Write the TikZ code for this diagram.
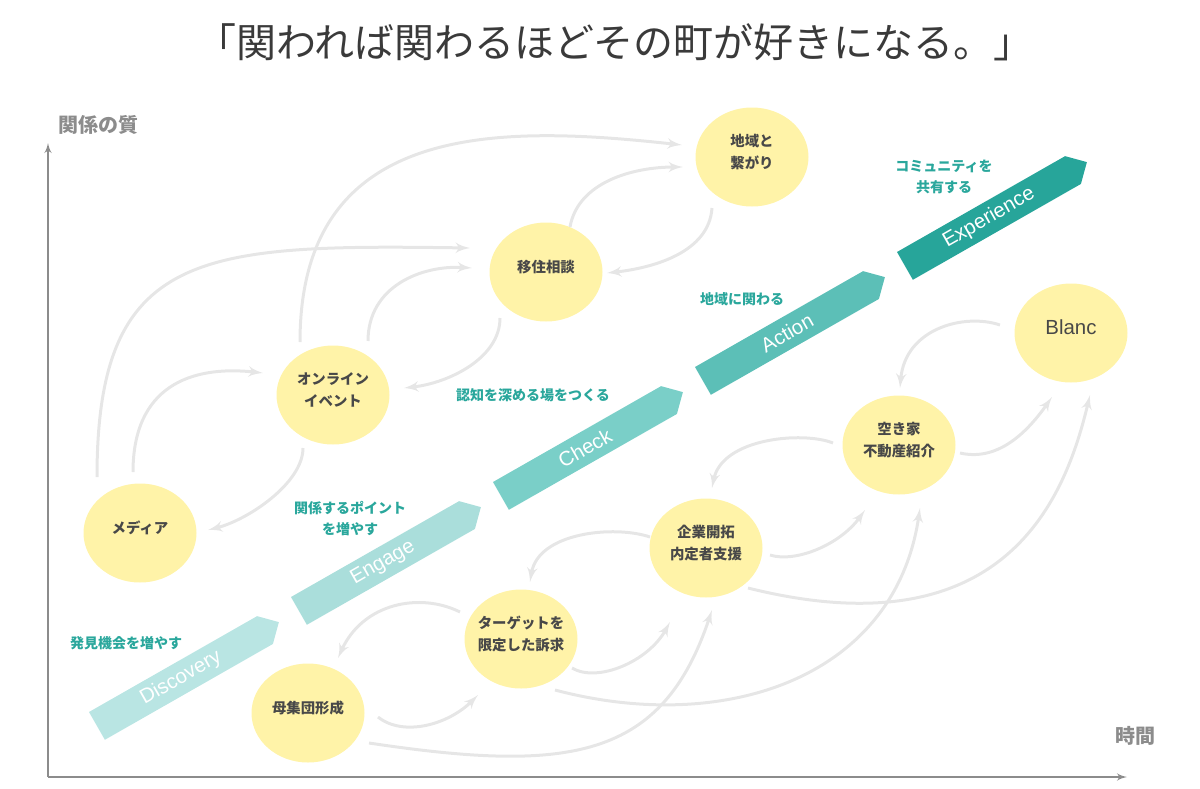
\documentclass[tikz,border=0pt]{standalone}
\usepackage{fontspec}
\setmainfont{Liberation Sans}
\newfontfamily\jp{Noto Sans CJK JP}
\usepackage{tikz}
\usetikzlibrary{arrows,calc,shapes.geometric}
\definecolor{bubfill}{HTML}{FFF3A8}
\definecolor{inkgray}{HTML}{484848}
\definecolor{titlegray}{HTML}{3A3A3A}
\definecolor{axgray}{HTML}{8C8C8C}
\definecolor{flowgray}{HTML}{E6E6E6}
\definecolor{tealtxt}{HTML}{2AA79C}
\definecolor{bandA}{HTML}{B9E5E3}
\definecolor{bandB}{HTML}{AADEDB}
\definecolor{bandC}{HTML}{7ACFC8}
\definecolor{bandD}{HTML}{5CBFB7}
\definecolor{bandE}{HTML}{27A59A}
\newcommand{\bubtxt}[1]{\makebox[0pt]{\raisebox{1.8pt}[\height][\depth]{\begin{tabular}{@{}c@{}}#1\end{tabular}}}}
\tikzset{
	bub_y/.style = {ellipse, fill=bubfill, minimum width=56.5pt, minimum height=49.5pt,
		inner sep=0pt, text=inkgray, font=\jp\bfseries\fontsize{7.2pt}{11pt}\selectfont},
	bub_b/.style = {bub_y, font=\fontsize{10.2pt}{12pt}\selectfont},
	tag_t/.style = {align=center, inner sep=0pt, text=tealtxt,
		font=\jp\bfseries\fontsize{7pt}{10.5pt}\selectfont},
	axis_l/.style = {inner sep=0pt, text=axgray, font=\jp\bfseries\fontsize{10pt}{12pt}\selectfont},
	title_t/.style = {inner sep=0pt, text=titlegray, font=\jp\fontsize{20pt}{24pt}\selectfont},
	band_t/.style = {inner sep=0pt, text=white, rotate=29.7, font=\fontsize{10.2pt}{12pt}\selectfont},
	flow/.style = {draw=flowgray, line width=1.5pt, -latex'},
	axis/.style = {draw=axgray, line width=0.75pt, -latex'}
}
\begin{document}
\begin{tikzpicture}[x=0.5pt, y=-0.5pt]
\useasboundingbox (0,0) rectangle (1200,788);

\node[title_t] (title) at (615,42) {「関われば関わるほどその町が好きになる。」};

% axes
\coordinate (origin) at (48,777);
\coordinate (ytop) at (48,143);
\coordinate (xend) at (1127,777);
\draw[axis] (origin) -- (ytop);
\draw[axis] (origin) -- (xend);
\node[axis_l] (ylab) at (98,125) {関係の質};
\node[axis_l] (xlab) at (1135,736) {時間};

% stage bands
\foreach \lab/\col [count=\i from 0] in {Discovery/bandA, Engage/bandB, Check/bandC, Action/bandD, Experience/bandE} {
	\begin{scope}[shift={(89+202*\i,712-115*\i)}, rotate=29.7]
		\fill[\col] (0,0) -- (193.5,0) -- (209.5,16) -- (193.5,32) -- (0,32) -- cycle;
		\node[band_t] (band\i) at (96.75,16) {\lab};
	\end{scope}
}

\node[tag_t] (tagdisc) at (126,643) {発見機会を増やす};
\node[tag_t] (tageng) at (350,519) {関係するポイント\\を増やす};
\node[tag_t] (tagchk) at (533,395) {認知を深める場をつくる};
\node[tag_t] (tagact) at (742,299) {地域に関わる};
\node[tag_t] (tagexp) at (944,177) {コミュニティを\\共有する};

% bubbles
\node[bub_y] (tsuna) at (752,157) {\bubtxt{地域と\\繋がり}};
\node[bub_y] (iju) at (546,272) {\bubtxt{移住相談}};
\node[bub_y] (online) at (333,395) {\bubtxt{オンライン\\イベント}};
\node[bub_y] (media) at (140,533) {\bubtxt{メディア}};
\node[bub_y] (boshu) at (308,713) {\bubtxt{母集団形成}};
\node[bub_y] (target) at (521,639) {\bubtxt{ターゲットを\\限定した訴求}};
\node[bub_y] (kigyo) at (706,548) {\bubtxt{企業開拓\\内定者支援}};
\node[bub_y] (akiya) at (899,445) {\bubtxt{空き家\\不動産紹介}};
\node[bub_b] (blanc) at (1071,333) {\bubtxt{Blanc}};

% flows
\draw[flow] ($(media)+(-43,-56)$) .. controls +(0,-227) and +(-270,-4) .. ($(iju)+(-76,-24)$);
\draw[flow] ($(media)+(-7,-61)$) .. controls +(0,-85) and +(-73,-8) .. ($(online)+(-70,-22)$);
\draw[flow] ($(online)+(-33,-53)$) .. controls +(0,-222) and +(-182,-20) .. ($(tsuna)+(-70,-12)$);
\draw[flow] ($(online)+(35,-54)$) .. controls +(0,-55) and +(-50,-3) .. ($(iju)+(-74,-4)$);
\draw[flow] ($(iju)+(-46,46)$) .. controls +(0,40) and +(45,-5) .. ($(online)+(71,-7)$);
\draw[flow] ($(iju)+(24,-45)$) .. controls +(8,-45) and +(-50,0) .. ($(tsuna)+(-69,10)$);
\draw[flow] ($(tsuna)+(-40,51)$) .. controls +(-3,45) and +(45,-5) .. ($(iju)+(61,1)$);
\draw[flow] ($(online)+(-30,53)$) .. controls +(0,35) and +(40,-10) .. ($(media)+(68,-3)$);
\draw[flow] ($(boshu)+(70,4)$) .. controls +(25,20) and +(-30,30) .. ($(target)+(-43,56)$);
\draw[flow] ($(boshu)+(61,30)$) .. controls +(200,30) and +(-50,150) .. ($(kigyo)+(6,62)$);
\draw[flow] ($(target)+(-61,-27)$) .. controls +(-40,-20) and +(25,-55) .. ($(boshu)+(30,-55)$);
\draw[flow] ($(target)+(51,29)$) .. controls +(25,15) and +(-22,40) .. ($(kigyo)+(-36,74)$);
\draw[flow] ($(target)+(34,51)$) .. controls +(170,45) and +(-25,170) .. ($(akiya)+(21,63)$);
\draw[flow] ($(kigyo)+(42,40)$) .. controls +(260,65) and +(-24,100) .. ($(blanc)+(19,62)$);
\draw[flow] ($(kigyo)+(64,7)$) .. controls +(25,8) and +(-25,35) .. ($(akiya)+(-34,65)$);
\draw[flow] ($(akiya)+(61,8)$) .. controls +(35,8) and +(-28,40) .. ($(blanc)+(-19,64)$);
\draw[flow] ($(blanc)+(-71,-8)$) .. controls +(-35,-12) and +(5,-60) .. ($(akiya)+(1,-57)$);
\draw[flow] ($(akiya)+(-66,-2)$) .. controls +(-30,-12) and +(10,-50) .. ($(kigyo)+(6,-60)$);
\draw[flow] ($(kigyo)+(-56,-11)$) .. controls +(-35,-12) and +(8,-50) .. ($(target)+(9,-57)$);
\end{tikzpicture}
\end{document}
